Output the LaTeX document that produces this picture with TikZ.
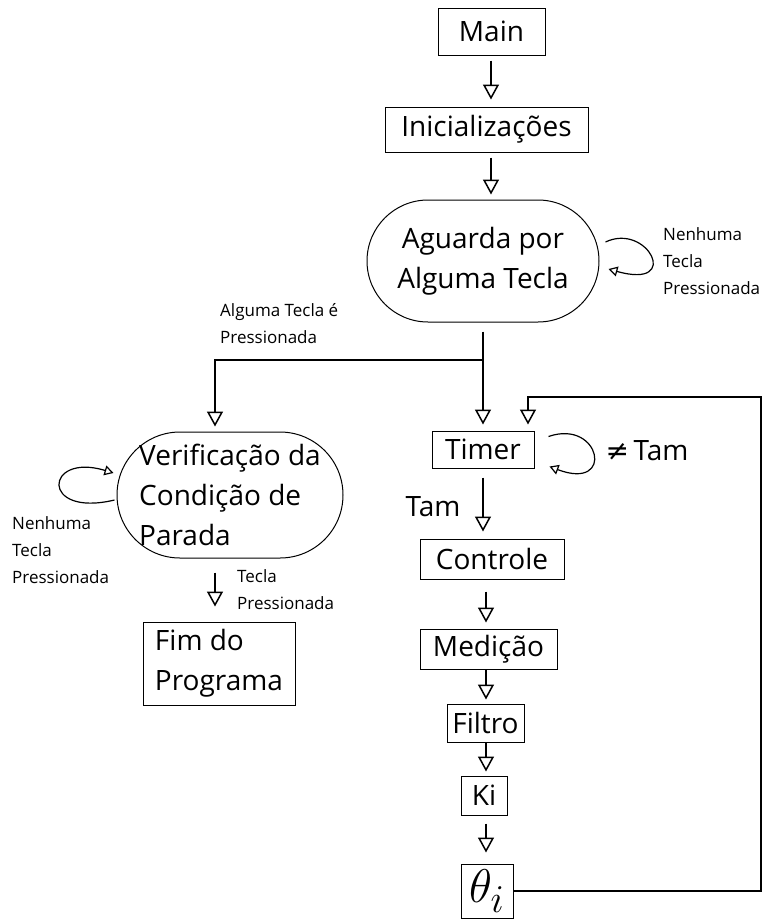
\documentclass[tikz,border=0pt]{standalone}
\usepackage{fontspec}
\setmainfont{Open Sans}
\newfontfamily\symfont{DejaVu Sans}
\usetikzlibrary{arrows.meta,calc}
\begin{document}
\begin{tikzpicture}[x=1pt,y=-1pt,
  big/.style={font=\fontsize{28}{40}\selectfont},
  small/.style={font=\fontsize{17}{27}\selectfont, inner sep=0pt, align=left},
  box/.style={draw, line width=1pt, inner sep=0pt, big},
  stadium/.style={box, rounded corners=#1},
  link/.style={line width=1.5pt, -{Triangle[open,width=16pt,length=15pt]}},
  plain/.style={line width=1.5pt},
  loop/.style={line width=1.2pt, -{Triangle[open,width=10pt,length=9pt]}}]
\useasboundingbox (0,0) rectangle (766,919);

% main sequence
\node[box, minimum width=107pt, minimum height=47pt] (main) at (491.5,31.5) {Main};
\node[box, minimum width=203pt, minimum height=45pt] (ini) at (486.5,129.5) {Inicializações};
\node[stadium=61pt, minimum width=232pt, minimum height=122pt, align=center] (ag) at (483,261)
  {Aguarda por\\Alguma Tecla};

% left branch
\node[stadium=63pt, minimum width=226pt, minimum height=126pt, align=left] (vf) at (230,495)
  {Verificação da\\Condição de\\Parada};
\node[box, minimum width=152pt, minimum height=83pt, align=left] (fim) at (219,663.5)
  {Fim do\\Programa};

% right branch
\node[box, minimum width=102pt, minimum height=37pt] (tm) at (483,449.5) {Timer};
\node[box, minimum width=144pt, minimum height=40pt] (ct) at (492,559) {Controle};
\node[box, minimum width=137pt, minimum height=40pt] (md) at (488.5,649) {Medição};
\node[box, minimum width=77pt, minimum height=38pt] (fl) at (485.5,723) {Filtro};
\node[box, minimum width=46pt, minimum height=39pt] (ki) at (484,795.5) {Ki};
\node[box, minimum width=52pt, minimum height=54pt] (th) at (487,891) {\scalebox{1.9}{$\theta_i$}};

% routing points
\coordinate (split) at (483,360);
\coordinate (fb) at (761,397);
\coordinate (ax) at (486,0);
\coordinate (ay) at (491,0);

% labels
\node[small, anchor=north west] (l1) at (663,227) {Nenhuma\\Tecla\\Pressionada};
\node[small, anchor=north west] (l2) at (220,303) {Alguma Tecla é\\Pressionada};
\node[small, anchor=north west] (l3) at (12,516) {Nenhuma\\Tecla\\Pressionada};
\node[small, anchor=north west] (l4) at (237,569) {Tecla\\Pressionada};
\node[big, inner sep=0pt] (l5) at (433,507) {Tam};
\node[big, inner sep=0pt] (l6) at (647,451) {{\symfont ≠}\,Tam};

% connectors
\draw[link, shorten <=5pt, shorten >=7pt] (main.south -| ay) -- (ini.north -| ay);
\draw[link, shorten <=5pt, shorten >=5pt] (ini.south -| ay) -- (ag.north -| ay);
\draw[plain, shorten <=9pt] (ag.south) -- (split);
\draw[link, shorten >=5pt] (split) -| ([xshift=-15pt]vf.north);
\draw[link, shorten >=6pt] (split) -- (tm.north);
\draw[link, shorten <=14pt, shorten >=15pt] ([xshift=-15pt]vf.south) -- ([xshift=-15pt]vf.south |- fim.north);
\draw[link, shorten <=9pt, shorten >=7pt] (tm.south) -- (tm.south |- ct.north);
\draw[link, shorten <=12pt, shorten >=6pt] (ct.south -| ax) -- (md.north -| ax);
\draw[link, shorten >=4pt] (md.south -| ax) -- (fl.north -| ax);
\draw[link, shorten >=4pt] (fl.south -| ax) -- (ki.north -| ax);
\draw[link, shorten <=8pt, shorten >=11pt] (ki.south -| ax) -- (th.north -| ax);
\draw[link, shorten >=6pt] (th.east) -| (fb) -| ([xshift=45pt]tm.north);

% self loops
\draw[loop] ($(ag.east)+(6,-19)$) .. controls ($(ag.east)+(48,-39)$) and ($(ag.east)+(83,29)$) .. ($(ag.east)+(9,8)$);
\draw[loop] ($(tm.east)+(14,-13)$) .. controls ($(tm.east)+(66,-31)$) and ($(tm.east)+(81,42)$) .. ($(tm.east)+(15,17)$);
\draw[loop] ($(vf.west)+(-2,5)$) .. controls ($(vf.west)+(-77,23)$) and ($(vf.west)+(-72,-43)$) .. ($(vf.west)+(-3,-22)$);
\end{tikzpicture}
\end{document}
